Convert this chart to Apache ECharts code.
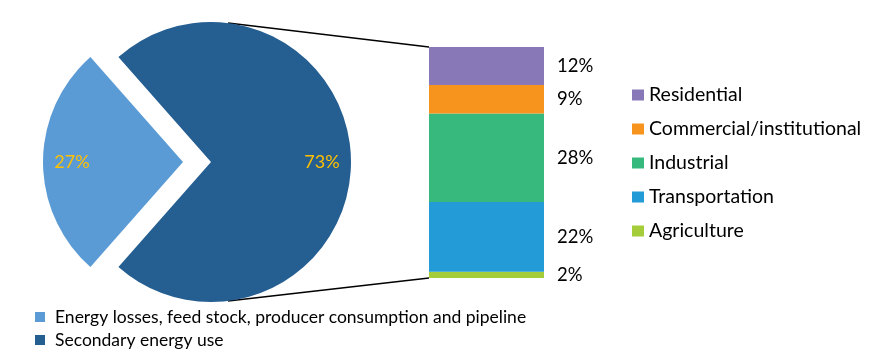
<!DOCTYPE html>
<html>
<head>
<meta charset="utf-8">
<script src="https://cdn.jsdelivr.net/npm/echarts@6/dist/echarts.min.js"></script>
<style>html,body{margin:0;padding:0;background:#fff}#c{width:879px;height:354px}</style>
</head>
<body>
<div id="c"></div>
<script>
// ---- data ----
const pieNames = ['Energy losses, feed stock, producer consumption and pipeline', 'Secondary energy use'];
const pieValues = [27, 73];
const barNames = ['Residential', 'Commercial/institutional', 'Industrial', 'Transportation', 'Agriculture'];
const barValues = [12, 9, 28, 22, 2];

// ---- styles ----
const pieColors = ['#5b9bd5', '#255e91'];
const barColors = ['#8878b7', '#f7941e', '#37b87c', '#229bd7', '#a5cd39'];
const FONT = 'Lato';

const pieCenter = [211, 162];
const pieR = 140;
const barGrid = { left: 429, top: 47, width: 115, height: 231 };
const total = barValues.reduce((a, b) => a + b, 0);

const pieData = pieNames.map((n, i) => ({
  name: n, value: pieValues[i], selected: i === 0,
  itemStyle: { color: pieColors[i] }
}));
const labelData = pieNames.map((n, i) => ({
  name: n, value: pieValues[i], selected: i === 0
}));

const startAngle = 180 + pieValues[0] / (pieValues[0] + pieValues[1]) * 360 / 2;

// bar series: stacked bottom-up (reverse of legend order)
const barSeries = [];
for (let i = barNames.length - 1; i >= 0; i--) {
  barSeries.push({
    type: 'bar', name: barNames[i], stack: 's', data: [barValues[i]],
    barWidth: '100%',
    itemStyle: { color: barColors[i] },
    label: { show: true, position: 'right', distance: 13, formatter: '{c}%',
      color: '#000', fontFamily: FONT, fontSize: 18.5 },
    emphasis: { disabled: true }
  });
}

// connector lines from pie edge to bar
const ang = 83 * Math.PI / 180;
const px = pieCenter[0] + pieR * Math.cos(ang);
const pyTop = pieCenter[1] - pieR * Math.sin(ang);
const pyBot = pieCenter[1] + pieR * Math.sin(ang);

const chart = echarts.init(document.getElementById('c'));
chart.setOption({
  animation: false,
  backgroundColor: '#fff',
  grid: barGrid,
  xAxis: { type: 'category', data: [''], show: false },
  yAxis: { type: 'value', min: 0, max: total, show: false },
  legend: [
    {
      data: barNames, orient: 'vertical', left: 632, top: 85, padding: 0,
      itemWidth: 12, itemHeight: 11, itemGap: 14, icon: 'rect',
      textStyle: { fontFamily: FONT, fontSize: 19.5, color: '#000', lineHeight: 20, padding: [0, 0, 0, 0] },
      selectedMode: false
    },
    {
      data: pieNames, orient: 'vertical', left: 35, top: 307, padding: 0, height: 50,
      itemWidth: 10, itemHeight: 10, itemGap: 3, icon: 'rect',
      textStyle: { fontFamily: FONT, fontSize: 17.5, color: '#000', lineHeight: 20, padding: [0, 0, 0, 5] },
      selectedMode: false
    }
  ],
  graphic: [
    { type: 'line', shape: { x1: px, y1: pyTop, x2: barGrid.left, y2: barGrid.top },
      style: { stroke: '#000', lineWidth: 1.5 }, z: 0 },
    { type: 'line', shape: { x1: px, y1: pyBot, x2: barGrid.left, y2: barGrid.top + barGrid.height },
      style: { stroke: '#000', lineWidth: 1.5 }, z: 0 }
  ],
  series: [
    {
      type: 'pie', center: pieCenter, radius: pieR, startAngle: startAngle,
      clockwise: true, selectedMode: 'single', selectedOffset: 28,
      data: pieData, label: { show: false }, labelLine: { show: false },
      emphasis: { disabled: true }, z: 2
    },
    {
      type: 'pie', center: pieCenter, radius: [76, pieR], startAngle: startAngle,
      clockwise: true, selectedMode: 'single', selectedOffset: 28, silent: true,
      data: labelData, itemStyle: { color: 'rgba(0,0,0,0)' },
      label: { show: true, position: 'inside', formatter: '{d}%', color: '#ffc000',
        fontFamily: FONT, fontSize: 18 },
      labelLine: { show: false }, emphasis: { disabled: true }, z: 3
    },
    ...barSeries
  ]
});
</script>
</body>
</html>
